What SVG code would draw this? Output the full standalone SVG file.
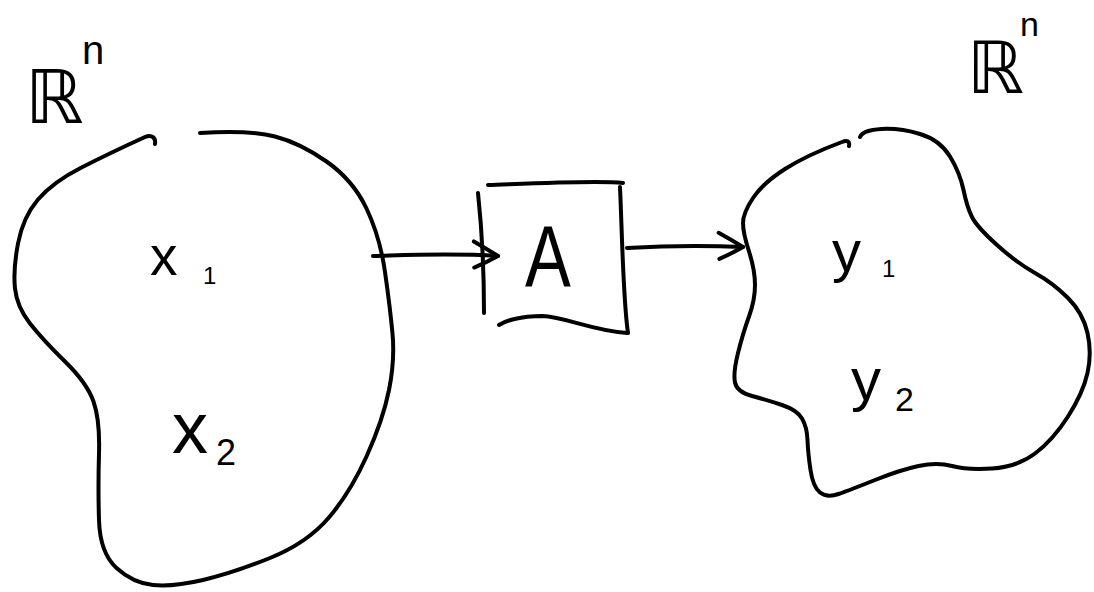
<svg xmlns="http://www.w3.org/2000/svg" width="1094" height="592" viewBox="0 0 1094 592">
  <style>
    .ink { fill: none; stroke: #000; stroke-width: 4; stroke-linecap: round; stroke-linejoin: round; }
    .lbl { font-family: "Liberation Sans", "DejaVu Sans", sans-serif; fill: #000; }
    .bb { font-family: "DejaVu Sans", "Noto Sans", sans-serif; fill: #000; }
  </style>
  <defs>
    <marker id="chev" viewBox="0 0 32 32" refX="29" refY="16" markerWidth="32" markerHeight="32" markerUnits="userSpaceOnUse" orient="auto">
      <path d="M4,3 Q18,10 29,16 Q18,23 6,29" fill="none" stroke="#000" stroke-width="4" stroke-linecap="round" stroke-linejoin="round"/>
    </marker>
  </defs>
  <rect width="1094" height="592" fill="#fff"/>

  <!-- domain space -->
  <g id="domain">
    <path class="ink" d="M155,144 C156,138 152,134 145,137 Q110,153 81.5,167.5 Q53,182 38,199.5 Q23,217 18,243.5 Q13,270 15,288.5 Q17,307 30,323.5 Q43,340 65,361.5 Q87,383 93.5,401.5 Q100,420 99,453.5 Q98,487 99,520 Q100,553 116.5,568 Q133,583 153,585 Q173,587 203,580 Q233,573 270,558 Q307,543 328.5,518 Q350,493 366.5,456.5 Q383,420 389,390 Q395,360 392.5,333.5 Q390,307 385,272 Q380,237 366.5,208.5 Q353,180 326.5,161.5 Q300,143 275,136.5 Q250,130 200,133"/>
    <text class="bb" x="25" y="123" font-size="74">ℝ</text>
    <text class="lbl" x="82" y="64" font-size="40">n</text>
    <text class="lbl" x="150" y="275" font-size="55">x<tspan x="203" y="284" font-size="24">1</tspan></text>
    <text class="lbl" x="172" y="453" font-size="72">x<tspan x="216" y="465" font-size="36">2</tspan></text>
  </g>

  <!-- operator box -->
  <g id="operator">
    <path class="ink" d="M478,193 C482,230 484,280 484,313"/>
    <path class="ink" d="M488,185 C540,183 600,180 623,183"/>
    <path class="ink" d="M620,187 C622,230 623,300 628,333"/>
    <path class="ink" d="M499,325 C505,321 520,316 542,316 C566,317 590,330 627,333"/>
    <text class="lbl" font-size="88" text-anchor="middle" transform="translate(548,287) scale(0.78,1)">A</text>
  </g>

  <!-- image space -->
  <g id="image">
    <path class="ink" d="M849,146 C850,141 847,140 842,142 Q807,155 785,169 Q763,183 753,198 Q743,213 743,223 Q743,233 749,251.5 Q755,270 755,285 Q755,300 749,316.5 Q743,333 738,353 Q733,373 735,382.5 Q737,392 752,396 Q767,400 782,405 Q797,410 802,418.5 Q807,427 807.5,440 Q808,453 810.5,470 Q813,487 820,492.5 Q827,498 838.5,494 Q850,490 875,480 Q900,470 918.5,466 Q937,462 952,466 Q967,470 992,468.5 Q1017,467 1035,453.5 Q1053,440 1068,416.5 Q1083,393 1087.5,373 Q1092,353 1087.5,333 Q1083,313 1068,298 Q1053,283 1035,273 Q1017,263 997,245 Q977,227 972,217 Q967,207 963.5,190 Q960,173 950,156.5 Q940,140 920,134 Q900,128 881.5,129 Q863,130 860,137"/>
    <text class="bb" x="967" y="93" font-size="72">ℝ</text>
    <text class="lbl" x="1020" y="36" font-size="34">n</text>
    <text class="lbl" x="832" y="271" font-size="58">y<tspan x="882" y="277" font-size="24">1</tspan></text>
    <text class="lbl" x="851" y="400" font-size="60">y<tspan x="895" y="411" font-size="34">2</tspan></text>
  </g>

  <!-- mapping arrows -->
  <g id="connectors">
    <path class="ink" d="M373,256 C410,255 450,253 498,256" marker-end="url(#chev)"/>
    <path class="ink" d="M627,248 C660,246 700,245 743,247" marker-end="url(#chev)"/>
  </g>
</svg>
